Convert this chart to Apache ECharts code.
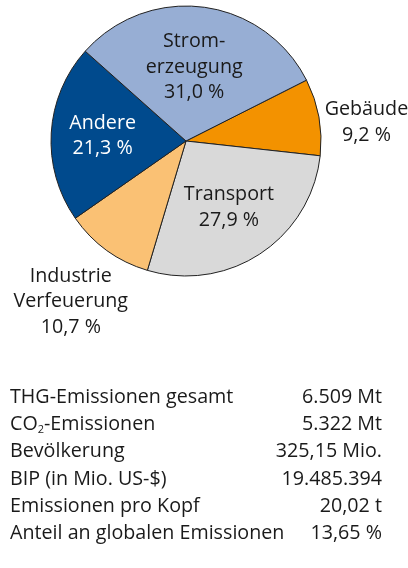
<!DOCTYPE html>
<html>
<head>
<meta charset="utf-8">
<script src="https://cdn.jsdelivr.net/npm/echarts@6/dist/echarts.min.js"></script>
<style>
html,body{margin:0;padding:0;background:#fff;}
#c{width:408px;height:568px;}
</style>
</head>
<body>
<div id="c"></div>
<script>
// Pie data (clockwise from the Strom/Gebäude boundary)
var sectors = ['Gebäude', 'Transport', 'Industrie Verfeuerung', 'Andere', 'Stromerzeugung'];
var sectorLabels = ['Gebäude', 'Transport', 'Industrie\nVerfeuerung', 'Andere', 'Strom-\nerzeugung'];
var shares = [9.2, 27.9, 10.7, 21.3, 31.0];
var shareText = ['9,2 %', '27,9 %', '10,7 %', '21,3 %', '31,0 %'];
var colors = ['#F39200', '#D9D9D9', '#FAC174', '#004A8D', '#97AED4'];
var labelColors = ['#1a1a1a', '#1a1a1a', '#1a1a1a', '#ffffff', '#1a1a1a'];
var labelInside = [false, true, false, true, true];
// label nudges relative to the library's default label placement
var labelDx = [-9, 4, 32, -13, -1];
var labelDy = [7, 7.5, 43, -1, -4];

// Key figures table
var rowLabels = ['THG-Emissionen gesamt', 'CO{sub|2}-Emissionen', 'Bevölkerung', 'BIP (in Mio. US-$)', 'Emissionen pro Kopf', 'Anteil an globalen Emissionen'];
var rowValues = ['6.509 Mt', '5.322 Mt', '325,15 Mio.', '19.485.394', '20,02 t', '13,65 %'];

var FONT = 'Open Sans';
var FS = 19.7;
var INK = '#1a1a1a';

var chart = echarts.init(document.getElementById('c'), null, {renderer: 'canvas'});

var data = sectors.map(function (n, i) {
  return {
    name: n,
    value: shares[i],
    itemStyle: {color: colors[i]},
    label: {
      position: labelInside[i] ? 'inside' : 'outside',
      color: labelColors[i],
      formatter: sectorLabels[i] + '\n' + shareText[i]
    }
  };
});

var graphics = [];
rowLabels.forEach(function (t, i) {
  var y = 397 + i * 27.3;
  graphics.push({
    type: 'text', x: 10, y: y,
    style: {
      text: '{n|' + t.replace('{sub|2}', '}{sub|2}{n|') + '}',
      verticalAlign: 'middle', align: 'left',
      rich: {
        n: {fontFamily: FONT, fontSize: FS, fill: INK, lineHeight: 24},
        sub: {fontFamily: FONT, fontSize: 11, fill: INK, lineHeight: 24, padding: [11, 0, 0, 0]}
      }
    }
  });
  graphics.push({
    type: 'text', x: 382, y: y,
    style: {
      text: '{n|' + rowValues[i] + '}',
      verticalAlign: 'middle', align: 'right',
      rich: {n: {fontFamily: FONT, fontSize: FS, fill: INK, lineHeight: 24}}
    }
  });
});

chart.setOption({
  animation: false,
  backgroundColor: '#ffffff',
  graphic: graphics,
  series: [{
    type: 'pie',
    center: [186, 141],
    radius: 135,
    startAngle: 26.8,
    clockwise: true,
    avoidLabelOverlap: false,
    itemStyle: {borderColor: '#222', borderWidth: 1},
    label: {fontFamily: FONT, fontSize: FS, lineHeight: 25.5, align: 'center'},
    labelLine: {show: false, length: 10, length2: 0},
    labelLayout: function (p) {
      var r = p.labelRect;
      return {
        x: r.x + r.width / 2 + labelDx[p.dataIndex],
        y: r.y + r.height / 2 + labelDy[p.dataIndex],
        align: 'center',
        verticalAlign: 'middle'
      };
    },
    emphasis: {disabled: true},
    data: data
  }]
});
</script>
</body>
</html>
